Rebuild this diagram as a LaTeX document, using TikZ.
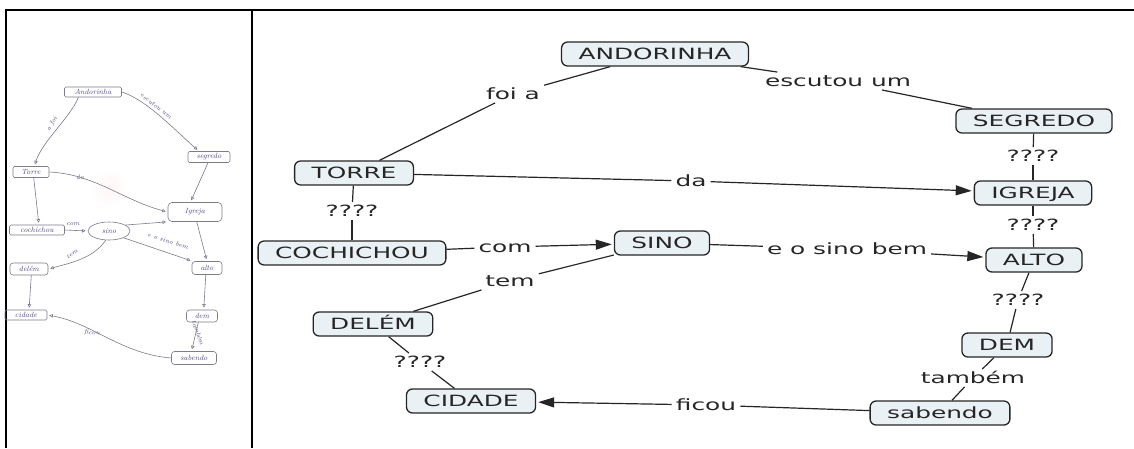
\documentclass[tikz,border=0pt]{standalone}
\usepackage{fontspec}
\usetikzlibrary{arrows.meta,shapes.geometric}
\newfontfamily\mapfont[FakeStretch=1.6]{DejaVu Sans}
\definecolor{conceptfill}{HTML}{EAF1F5}
\definecolor{ink}{HTML}{262626}
\definecolor{pencil}{HTML}{7E7A90}
\definecolor{pen}{HTML}{54497E}
\begin{document}
\begin{tikzpicture}[x=1pt,y=-1pt,
  concept/.style={draw=ink, line width=1.3pt, fill=conceptfill, rounded corners=6pt,
    font=\mapfont\fontsize{15.5}{18}\selectfont, text=ink, minimum height=24pt,
    inner xsep=17pt, inner ysep=0pt, text height=11.5pt, text depth=0pt},
  linkword/.style={font=\mapfont\fontsize{15.5}{18}\selectfont, text=ink,
    inner xsep=4pt, inner ysep=3pt, text height=11.5pt, text depth=0pt},
  link/.style={draw=ink, line width=1.2pt},
  arrowlink/.style={link, -{Triangle[length=16pt,width=10pt]}, shorten >=2pt},
  sknode/.style={draw=pencil, line width=0.6pt, rounded corners=1.5pt, text=pen,
    font=\itshape\fontsize{7.5}{8}\selectfont, inner sep=1pt},
  skword/.style={text=pen, font=\itshape\fontsize{6.5}{7}\selectfont, inner sep=0.5pt},
  sk/.style={draw=pencil, line width=0.6pt},
  skarrow/.style={sk, -{Triangle[open,length=3.5pt,width=3.5pt]}, shorten >=2pt},
]
\useasboundingbox (0,0) rectangle (1134,448);
\fill[white] (0,0) rectangle (1134,448);

% table rules
\draw[line width=2.2pt] (6,448) -- (6,10) -- (1134,10);
\draw[line width=2.2pt] (252,10) -- (252,448);

% ---------- hand-drawn draft (left cell) ----------
\shade[inner color=red!4, outer color=white] (110,188) circle (20);

\node[sknode, minimum width=57pt, minimum height=10pt] (sa) at (93,92) {Andorinha};
\node[sknode, minimum width=42pt, minimum height=11pt] (ss) at (209,157) {segredo};
\node[sknode, minimum width=36pt, minimum height=11pt] (st) at (31,172) {Torre};
\node[sknode, minimum width=54pt, minimum height=19pt, rounded corners=4pt] (si) at (195,212) {Igreja};
\node[sknode, minimum width=55pt, minimum height=10pt] (sc) at (37,230) {cochichou};
\node[sknode, ellipse, minimum width=42pt, minimum height=18pt] (sn) at (109,231) {sino};
\node[sknode, minimum width=30pt, minimum height=13pt, rounded corners=3pt] (sl) at (207,268) {alto};
\node[sknode, minimum width=38pt, minimum height=12pt, rounded corners=3pt] (sd) at (29,269) {delém};
\node[sknode, minimum width=31pt, minimum height=12pt, rounded corners=3pt] (sm) at (202,316) {dem};
\node[sknode, minimum width=42pt, minimum height=10pt] (sx) at (26,315) {cidade};
\node[sknode, minimum width=45pt, minimum height=13pt, rounded corners=3pt] (sb) at (194,358) {sabendo};

\node[skword, rotate=58] (wfoi) at (52,124) {a foi};
\node[skword, rotate=-38] (wesc) at (156,106) {escutou um};
\node[skword] (wda) at (80,177) {da};
\node[skword] (wcom) at (73,224) {com};
\node[skword, rotate=-18] (wbem) at (168,241) {e o sino bem};
\node[skword, rotate=35] (wtem) at (72,254) {tem};
\node[skword, rotate=-5] (wfic) at (92,333) {ficou};
\node[skword, rotate=-70] (wtam) at (198,333) {também};

\draw[skarrow] (sa.-160) .. controls +(-8,20) and +(8,-25) .. (st.60);
\draw[skarrow] (sa.east) .. controls +(25,8) and +(-25,-22) .. (ss.150);
\draw[skarrow] (ss.-100) -- (si.115);
\draw[skarrow] (st.east) .. controls +(45,2) and +(-45,-12) .. (si.west);
\draw[skarrow] (st.-65) -- (sc.70);
\draw[skarrow] (sc.east) -- (sn.west);
\draw[skarrow] (sn.20) -- (si.200);
\draw[skarrow] (sn.-25) -- (sl.155);
\draw[skarrow] (si.-80) -- (sl.north);
\draw[skarrow] (sn.-110) .. controls +(-12,18) and +(22,-6) .. (sd.east);
\draw[skarrow] (sl.-100) -- (sm.75);
\draw[skarrow] (sd.-70) -- (sx.60);
\draw[skarrow] (sm.-120) -- (sb.110);
\draw[skarrow] (sb.west) .. controls +(-50,-4) and +(45,8) .. (sx.east);

% ---------- concept map (right cell) ----------
\node[concept] (andorinha) at (655,54) {ANDORINHA};
\node[concept] (segredo) at (1034,121) {SEGREDO};
\node[concept] (igreja) at (1033,193) {IGREJA};
\node[concept] (torre) at (354,173) {TORRE};
\node[concept] (cochichou) at (352,253) {COCHICHOU};
\node[concept] (sino) at (662,243) {SINO};
\node[concept] (alto) at (1034,260) {ALTO};
\node[concept] (dem) at (1007,345) {DEM};
\node[concept] (sabendo) at (940,413) {sabendo};
\node[concept] (delem) at (373,324) {DELÉM};
\node[concept] (cidade) at (471,401) {CIDADE};

\node[linkword] (foia) at (513,94) {foi a};
\node[linkword] (escutou) at (838,81) {escutou um};
\node[linkword] (da) at (691,181) {da};
\node[linkword] (q1) at (1033,156) {????};
\node[linkword] (q2) at (1033,225) {????};
\node[linkword] (q3) at (352,211) {????};
\node[linkword] (com) at (505,247) {com};
\node[linkword] (esino) at (847,249) {e o sino bem};
\node[linkword] (tem) at (510,281) {tem};
\node[linkword] (q4) at (420,362) {????};
\node[linkword] (q5) at (1018,300) {????};
\node[linkword] (tambem) at (973,378) {também};
\node[linkword] (ficou) at (706,405) {ficou};

\draw[link] (andorinha) -- (foia);
\draw[link] (foia) -- (torre);
\draw[link] (andorinha) -- (escutou);
\draw[link] (escutou) -- (segredo);
\draw[link] (torre) -- (da);
\draw[arrowlink] (da) -- (igreja);
\draw[link] (segredo) -- (q1);
\draw[link] (q1) -- (igreja);
\draw[link] (igreja) -- (q2);
\draw[link] (q2) -- (alto);
\draw[link] (torre) -- (q3);
\draw[link] (q3) -- (cochichou);
\draw[link] (cochichou) -- (com);
\draw[arrowlink] (com) -- (sino);
\draw[link] (sino) -- (esino);
\draw[arrowlink] (esino) -- (alto);
\draw[link] (sino) -- (tem);
\draw[link] (tem) -- (delem);
\draw[link] (delem) -- (q4);
\draw[link] (q4) -- (cidade);
\draw[link] (alto) -- (q5);
\draw[link] (q5) -- (dem);
\draw[link] (dem) -- (tambem);
\draw[link] (tambem) -- (sabendo);
\draw[link] (sabendo) -- (ficou);
\draw[arrowlink] (ficou) -- (cidade);
\end{tikzpicture}
\end{document}
